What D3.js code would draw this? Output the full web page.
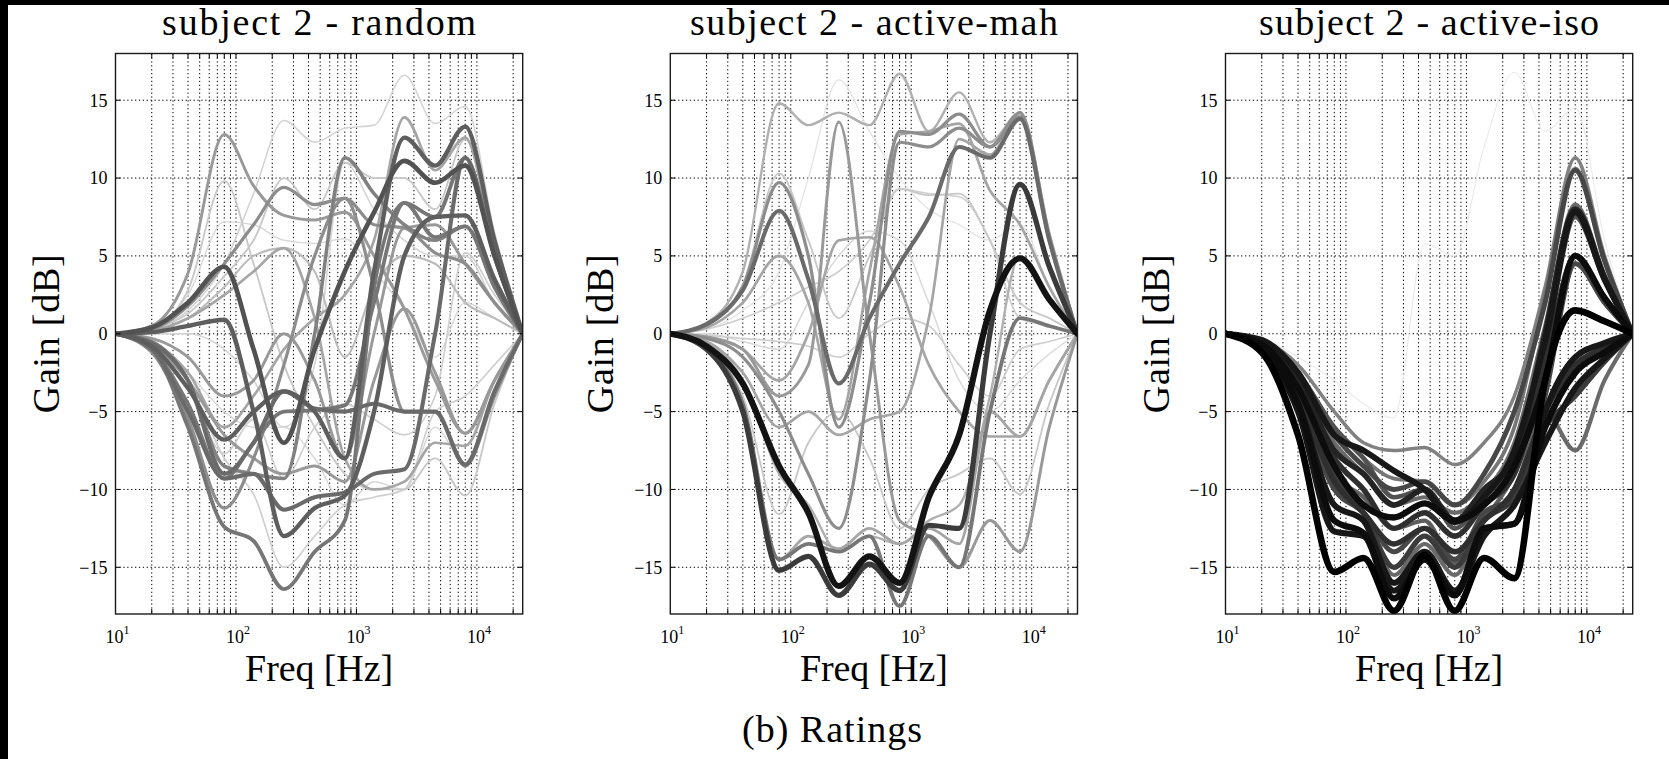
<!DOCTYPE html>
<html><head><meta charset="utf-8">
<script src="https://cdn.jsdelivr.net/npm/d3@7"></script>
<style>
html,body{margin:0;padding:0;background:#000;}
svg{display:block;}
</style></head><body>
<svg id="chart" width="1669" height="759"></svg>
<script>
// ---------------- DATA ----------------
const freqs = [10, 20, 40, 80, 140, 250, 450, 800, 1400, 2500, 4500, 8000, 14000, 24000];
const yTicks = [-15, -10, -5, 0, 5, 10, 15];
const xMajorTicks = [10, 100, 1000, 10000];
const panelTitles = ["subject 2 - random", "subject 2 - active-mah", "subject 2 - active-iso"];
const xLabel = "Freq [Hz]";
const yLabel = "Gain [dB]";
const caption = "(b) Ratings";

const randomGains = [
  [0, 0.3, 1.5, 4.5, 9, 13.7, 12.3, 13.2, 13.4, 16.6, 13.5, 14.6, 6.5, 0],
  [0, 0.5, 3.9, 12.8, 9.5, 7.6, 7.3, 7.8, 5, 1.6, -3, -6.4, -3, 0],
  [0, 0.3, 2.8, 9.8, 4.5, -2, -6, -9, -10, -10, -8, -10.4, -4.5, 0],
  [0, 0.4, 2, 4.3, -1, -7, -1, 4, 7.8, 11.1, 9.7, 10.8, 5, 0],
  [0, 0.1, 0.5, 0.9, -5, -13, -11.2, -10.4, -5, 5, 7.5, 7.6, 3.5, 0],
  [0, 0.3, 1.8, 4.5, 7, 9.4, 8.3, 8.7, 3, -5, -5, -8.5, -4, 0],
  [0, 0.2, 1, 2.5, 4, 5.5, 1, -8, -10, -9.5, -7, -7.2, -3, 0],
  [0, -0.5, -3, -8.5, -9, -9.3, 0, 11.3, 9, 7, 6, 6.9, 3, 0],
  [0, -1, -6, -12.4, -13.3, -16.4, -14, -12, 3, 8.4, 6.2, 6.9, 3, 0],
  [0, -0.5, -3, -8, -10.3, -15, -13, -11, -10.5, -10, -5, -4, -2, 0],
  [0, -1, -5, -9.3, -9, -11.3, -10.5, -10.2, -9, -8.7, 0, 11.3, 5, 0],
  [0, -0.8, -3.5, -6.8, -5, -3.7, -5, -8, 4, 12.6, 10.8, 13.3, 6, 0],
  [0, -1, -4.5, -9.3, -7, -5, -4.9, -4.6, 2, 8.4, 7.5, 11.3, 5, 0],
  [0, -1.2, -5.5, -11.2, -8, -2, 5, 8.7, 7, 6.8, 5.2, 4.5, 2, 0],
  [0, -0.8, -3.5, -7.7, -5.5, -9.3, -6, -4.5, -5.5, -6.5, -4, 5.2, 2.5, 0],
  [0, 0.3, 2.5, 7.2, 7, 6, 5.8, 6.1, 4, 1.6, -1.5, 2, 1, 0],
  [0, 0.3, 1.3, 3.7, 6, 10, 8, 11, 10, 10, 8, 12.5, 5.5, 0],
  [0, -0.5, -2.5, -6, -4, -1, 1, 2.5, 6, 13.9, 10.5, 12.6, 5.5, 0],
  [0, -0.3, -1.5, -4, -3, 0, -3, -8, 0, 6.8, 7, 4.5, 2, 0],
  [0, -0.7, -3, -6.5, -8, -9, -8.5, -9.5, -3, 1.6, -2.5, -6.4, -3, 0],
  [0, -0.5, -2.5, -5, -6, -6, -8, -11, -9.5, -10, -6, -8.4, -3.5, 0],
  [0, 0.2, 1, 3, 5, 5.5, 4, -1.5, 3, 5, 4.5, 2, 1, 0],
  [0, 0, 0, -1, -3, -6, -2, 11, 8, 6, 5, 5, 2, 0],
  [0, -0.6, -3, -9, -7, -3.7, -4.8, -5, -4.5, -5, -5, -8.4, -3.7, 0]
];
const randomRatings = [0.1, 0.35, 0.15, 0.65, 0.6, 0.4, 0.3, 0.45, 0.5, 0.12, 0.55, 0.6,
  0.5, 0.4, 0.12, 0.08, 0.15, 0.3, 0.35, 0.35, 0.08, 0.2, 0.1, 0.55];

const mahGains = [
  [0, 0.3, 1.5, 4, 10, 16.3, 13, 10, 8, 7, 6, 7, 3, 0],
  [0, 0.7, 4, 14.8, 13.4, 14.2, 13.4, 16.7, 13, 15.5, 12.3, 14.2, 6.5, 0],
  [0, 0.5, 3.2, 10.3, 6, 1, 5, 9.3, 8.9, 9, 6, 2, 1, 0],
  [0, 0.6, 3, 9.7, 5, -6, 2, 13, 12.8, 14.1, 12, 14.2, 6.3, 0],
  [0, 0.6, 2.8, 7.9, 3.5, -3.2, 1, 4.5, 7.5, 12, 11.3, 13.8, 6, 0],
  [0, -0.2, -1, -4, -2, 13.6, 0, -12, -13, -15, -12, -14, -6, 0],
  [0, -0.3, -1.5, -5, -9, -12.5, -3, 12.3, 12, 13.2, 12, 13.9, 6, 0],
  [0, 0.3, 1, 2, 3, 4, 6, 9.3, 9, 8.8, 6, 1, 0.5, 0],
  [0, -0.2, -1, -3, 0, 6, 6.2, 3, -2, -5, -6.6, -6.6, -3, 0],
  [0, 0, -0.5, -1, 2, 5, 6.6, 6, 2, -3, -5, -3, -1.3, 0],
  [0, -0.8, -3.2, -8.5, -11.5, -16.2, -14.3, -16, -10.5, -6.5, 1.5, 4.85, 2.2, 0],
  [0, -1, -5, -15.2, -14.3, -16.8, -14.8, -16.5, -12.3, -12.5, 0, 9.6, 4.3, 0],
  [0, -1, -4.5, -14.5, -13.5, -14, -13, -17.5, -13, -15, -5, 1, 0.5, 0],
  [0, -1, -5, -14.5, -13, -13.8, -12.5, -13.5, -12.5, -13.5, -5, -6.6, -3, 0],
  [0, -0.8, -4, -11.6, -7, -5, -8, -12.5, -10, -9, -8, -10.3, -4.5, 0],
  [0, -0.1, -0.3, -0.5, -0.8, -1.5, 0, 1, 0.5, -2, -4, -1, -0.5, 0],
  [0, 0.4, 2, 5, 2, -5.5, 4, 12.8, 13, 13.5, 9.2, 7, 3, 0],
  [0, -0.5, -2.5, -6, -5, -6.5, -5.5, -5, 1, 12.5, 11.5, 14, 6, 0],
  [0, -0.6, -3, -9, -11, -14, -13, -13.5, -12, -11, -4, 5, 2.2, 0]
];
const mahRatings = [0.04, 0.25, 0.15, 0.4, 0.55, 0.35, 0.4, 0.12, 0.3, 0.08, 0.92, 0.75,
  0.5, 0.3, 0.15, 0.12, 0.3, 0.3, 0.25];

const isoGains = [
  [0, -0.3, -1.5, -3, -4.5, -5.4, 5.8, 5, 12, 16.8, 13, 14.5, 6, 0],
  [0, -0.4, -2, -5, -7, -7.5, -7.3, -8.4, -7, -4, 3, 11.3, 5, 0],
  [0, -0.5, -2.5, -6, -8, -9.3, -9.5, -11, -9.5, -6, 2.5, 10.6, 4.7, 0],
  [0, -0.6, -3, -7, -9, -11, -10.5, -11.5, -10.2, -7, 0.5, 8.3, 3.8, 0],
  [0, -0.4, -2.5, -6.5, -7.5, -8.8, -10, -12.1, -10.5, -7.5, -0.5, 7.8, 3.5, 0],
  [0, -0.7, -3.5, -8.5, -11, -11.8, -10.9, -12, -11, -8.5, -3, 5, 2.3, 0],
  [0, -0.7, -3.5, -9, -10.5, -12.5, -12, -14.7, -12, -9, -3.5, 4.5, 2, 0],
  [0, -1.2, -6.5, -15.3, -14.4, -17.8, -14.2, -17.8, -14.4, -15.7, -3, 1.5, 0.8, 0],
  [0, -1, -4.5, -12, -12.8, -17, -14.5, -16.8, -12.5, -12.2, -6, -2.5, -1.2, 0],
  [0, -0.8, -4, -10, -11.5, -15.5, -13.5, -15.5, -12, -10, -5, -7.5, -3, 0],
  [0, -0.9, -4.5, -11, -12, -16, -14, -16.5, -13, -11, -7, -3.5, -1.6, 0],
  [0, -0.6, -3, -8, -10, -12.5, -11.5, -13, -11, -9, -2, 5, 2.3, 0],
  [0, -0.6, -3, -7.5, -9, -11, -10, -12, -10, -8, 0, 8, 3.6, 0],
  [0, -0.5, -2.5, -6.5, -8.5, -10, -9.5, -11, -9, -5, 2, 10.5, 4.7, 0],
  [0, -0.8, -4, -9, -11.5, -15, -13, -15, -12, -10.5, -6, -4, -1.8, 0],
  [0, -1, -5, -12.7, -13, -16.5, -14.5, -16.8, -12.5, -12.2, -5, -1.5, -0.6, 0],
  [0, -0.5, -2.5, -6, -8, -10.5, -10, -12.5, -10.5, -8, -1, 7.5, 3.4, 0],
  [0, -0.9, -4.5, -10, -11.5, -14, -12.5, -14.5, -11.5, -10.5, -4, 4.5, 2, 0],
  [0, -0.8, -4, -9.5, -11.5, -13.5, -12.5, -14, -12, -10, -5, -2, -0.9, 0]
];
const isoRatings = [0.01, 0.45, 0.5, 0.55, 0.9, 0.95, 0.6, 1.0, 0.95, 0.55, 0.9, 0.8,
  0.85, 0.7, 0.75, 0.9, 0.65, 0.7, 0.8];

const panelGains = [randomGains, mahGains, isoGains];
const panelRatings = [randomRatings, mahRatings, isoRatings];

// ---------------- LAYOUT ----------------
const W = 1669, H = 759;
const panelLefts = [115.5, 670.3, 1225.5];
const plotTop = 53.5, plotW = 407.2, plotH = 560.5;
const titleWidths = [314, 368, 340];
const FONT = "'Liberation Serif', 'Times New Roman', serif";

const svg = d3.select("#chart");
svg.append("rect").attr("x", 8).attr("y", 5).attr("width", W - 8).attr("height", H - 5).attr("fill", "#fff");

const x = d3.scaleLog().domain([10, 24000]).range([0, plotW]);
const y = d3.scaleLinear().domain([-18, 18]).range([plotH, 0]);
const shade = d3.scaleLinear().domain([0, 1]).range([235, 0]);
const lw = d3.scaleLinear().domain([0, 1]).range([1, 6.6]);
const fmtY = d => d < 0 ? "\u2212" + Math.abs(d) : String(d);

const line = d3.line()
  .x((d, j) => x(freqs[j]))
  .y(d => y(d))
  .curve(d3.curveMonotoneX);

function txt(sel) {
  return sel.append("text").attr("font-family", FONT).attr("fill", "#000");
}

panelGains.forEach((gains, i) => {
  const g = svg.append("g").attr("transform", `translate(${panelLefts[i]},${plotTop})`);
  const clipId = "clip" + i;
  g.append("clipPath").attr("id", clipId).append("rect")
    .attr("width", plotW).attr("height", plotH);

  const logTicks = x.ticks();
  const grid = g.append("g").attr("stroke", "#000").attr("stroke-width", 1)
    .attr("stroke-dasharray", "1.3,2.6").attr("fill", "none");
  logTicks.filter(t => t > 10).forEach(t => {
    grid.append("line").attr("x1", x(t)).attr("x2", x(t)).attr("y1", 0).attr("y2", plotH);
  });
  yTicks.forEach(t => {
    grid.append("line").attr("x1", 0).attr("x2", plotW).attr("y1", y(t)).attr("y2", y(t));
  });

  const ratings = panelRatings[i];
  const order = d3.range(gains.length).sort((a, b) => ratings[a] - ratings[b]);
  const cg = g.append("g").attr("clip-path", `url(#${clipId})`);
  order.forEach(k => {
    const v = Math.round(shade(ratings[k]));
    cg.append("path").datum(gains[k])
      .attr("d", line)
      .attr("fill", "none")
      .attr("stroke", `rgb(${v},${v},${v})`)
      .attr("stroke-width", lw(ratings[k]))
      .attr("stroke-linejoin", "round")
      .attr("stroke-linecap", "round");
  });

  const tk = g.append("g").attr("stroke", "#000").attr("stroke-width", 1);
  logTicks.filter(t => t > 10).forEach(t => {
    tk.append("line").attr("x1", x(t)).attr("x2", x(t)).attr("y1", plotH).attr("y2", plotH - 5);
    tk.append("line").attr("x1", x(t)).attr("x2", x(t)).attr("y1", 0).attr("y2", 5);
  });
  yTicks.forEach(t => {
    tk.append("line").attr("x1", 0).attr("x2", 5).attr("y1", y(t)).attr("y2", y(t));
    tk.append("line").attr("x1", plotW).attr("x2", plotW - 5).attr("y1", y(t)).attr("y2", y(t));
  });

  g.append("rect").attr("width", plotW).attr("height", plotH)
    .attr("fill", "none").attr("stroke", "#1a1a1a").attr("stroke-width", 1.4);

  yTicks.forEach(t => {
    txt(g).attr("x", -8).attr("y", y(t)).attr("dy", "0.35em")
      .attr("text-anchor", "end").attr("font-size", 18).text(fmtY(t));
  });
  xMajorTicks.forEach(t => {
    const tx = txt(g).attr("x", x(t) + 2).attr("y", plotH + 29)
      .attr("text-anchor", "middle").attr("font-size", 18);
    tx.append("tspan").text("10");
    tx.append("tspan").attr("dy", -9).attr("font-size", 12).text(String(Math.round(Math.log10(t))));
  });

  txt(g).attr("x", plotW / 2).attr("y", plotH + 66.5)
    .attr("text-anchor", "middle").attr("font-size", 38)
    .attr("textLength", 148).attr("lengthAdjust", "spacing").text(xLabel);
  txt(g).attr("transform", `translate(-57,${plotH / 2}) rotate(-90)`)
    .attr("text-anchor", "middle").attr("font-size", 38)
    .attr("textLength", 159).attr("lengthAdjust", "spacing").text(yLabel);
  txt(g).attr("x", plotW / 2).attr("y", 35 - plotTop)
    .attr("text-anchor", "middle").attr("font-size", 38)
    .attr("textLength", titleWidths[i]).attr("lengthAdjust", "spacing").text(panelTitles[i]);
});

txt(svg).attr("x", 832).attr("y", 742).attr("text-anchor", "middle")
  .attr("font-size", 38).attr("textLength", 180).attr("lengthAdjust", "spacing").text(caption);
</script>
</body></html>
